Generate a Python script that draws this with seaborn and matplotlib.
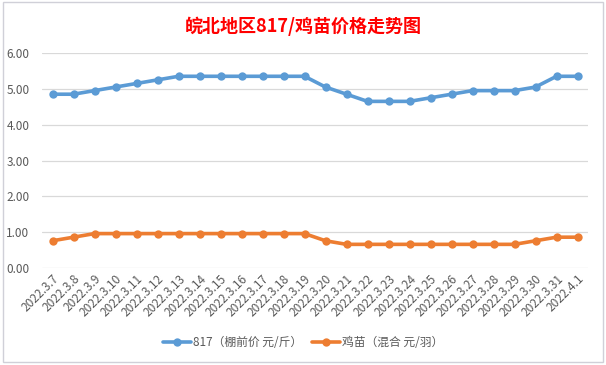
import matplotlib
matplotlib.use("Agg")
import matplotlib.pyplot as plt
import seaborn as sns
import pandas as pd
from matplotlib.patches import Rectangle
from matplotlib.lines import Line2D

dates = ["2022.3.7", "2022.3.8", "2022.3.9", "2022.3.10", "2022.3.11", "2022.3.12",
         "2022.3.13", "2022.3.14", "2022.3.15", "2022.3.16", "2022.3.17", "2022.3.18",
         "2022.3.19", "2022.3.20", "2022.3.21", "2022.3.22", "2022.3.23", "2022.3.24",
         "2022.3.25", "2022.3.26", "2022.3.27", "2022.3.28", "2022.3.29", "2022.3.30",
         "2022.3.31", "2022.4.1"]
price_817 = [4.85, 4.85, 4.95, 5.05, 5.15, 5.25, 5.35, 5.35, 5.35, 5.35, 5.35, 5.35,
             5.35, 5.05, 4.85, 4.65, 4.65, 4.65, 4.75, 4.85, 4.95, 4.95, 4.95, 5.05,
             5.35, 5.35]
price_chick = [0.76, 0.86, 0.96, 0.96, 0.96, 0.96, 0.96, 0.96, 0.96, 0.96, 0.96, 0.96,
               0.96, 0.76, 0.66, 0.66, 0.66, 0.66, 0.66, 0.66, 0.66, 0.66, 0.66, 0.76,
               0.86, 0.86]
series_names = ["817（棚前价 元/斤）", "鸡苗（混合 元/羽）"]
title = "皖北地区817/鸡苗价格走势图"
yticks = [0, 1, 2, 3, 4, 5, 6]

df = pd.DataFrame({
    "date": dates * 2,
    "value": price_817 + price_chick,
    "series": [series_names[0]] * len(dates) + [series_names[1]] * len(dates),
})

sns.set_theme(style="white")
plt.rcParams["font.family"] = ["Noto Sans CJK SC", "DejaVu Sans"]

fig = plt.figure(figsize=(6.06, 3.65), dpi=100)
fig.patch.set_facecolor("white")
fig.patches.append(Rectangle((3 / 606, 1 - 362 / 365), 600 / 606, 360 / 365,
                             transform=fig.transFigure, fill=False,
                             edgecolor="#D0D0D8", linewidth=1.0))

ax = fig.add_axes([42 / 606, (365 - 268) / 365, (588 - 42) / 606, (268 - 53) / 365])
palette = {series_names[0]: "#5B9BD5", series_names[1]: "#ED7D31"}
sns.lineplot(data=df, x="date", y="value", hue="series", palette=palette,
             marker="o", markersize=6, markeredgewidth=0, linewidth=2.6,
             sort=False, ax=ax, legend=False)

ax.set_xlim(-0.5, len(dates) - 0.5)
ax.set_ylim(0, 6)
ax.set_yticks(yticks)
ax.set_yticklabels([f"{v:.2f}" for v in yticks])
ax.grid(axis="y", color="#D9D9D9", linewidth=0.9)
ax.set_axisbelow(True)
for s in ["top", "right", "left", "bottom"]:
    ax.spines[s].set_visible(False)
ax.set_xlabel("")
ax.set_ylabel("")
ax.tick_params(axis="y", length=0, pad=9, labelsize=8.5, labelcolor="#595959")
ax.tick_params(axis="x", length=0, pad=3, labelsize=8.6, labelcolor="#595959")
for lab in ax.get_xticklabels():
    lab.set_rotation(45)
    lab.set_ha("right")
    lab.set_rotation_mode("anchor")

fig.text(0.5, 1 - 26 / 365, title, ha="center", va="center", color="#FF0000",
         fontsize=13, fontweight="bold")

handles = [Line2D([0], [0], color=palette[n], linewidth=2.6, marker="o",
                  markersize=6, markeredgewidth=0) for n in series_names]
leg = fig.legend(handles, series_names, loc="center", bbox_to_anchor=(0.5, 1 - 343 / 365),
                 ncol=2, frameon=False, fontsize=8.5, handlelength=2.4,
                 handletextpad=0.15, columnspacing=0.8)
for t in leg.get_texts():
    t.set_color("#595959")

fig.savefig("out.png", dpi=100)
